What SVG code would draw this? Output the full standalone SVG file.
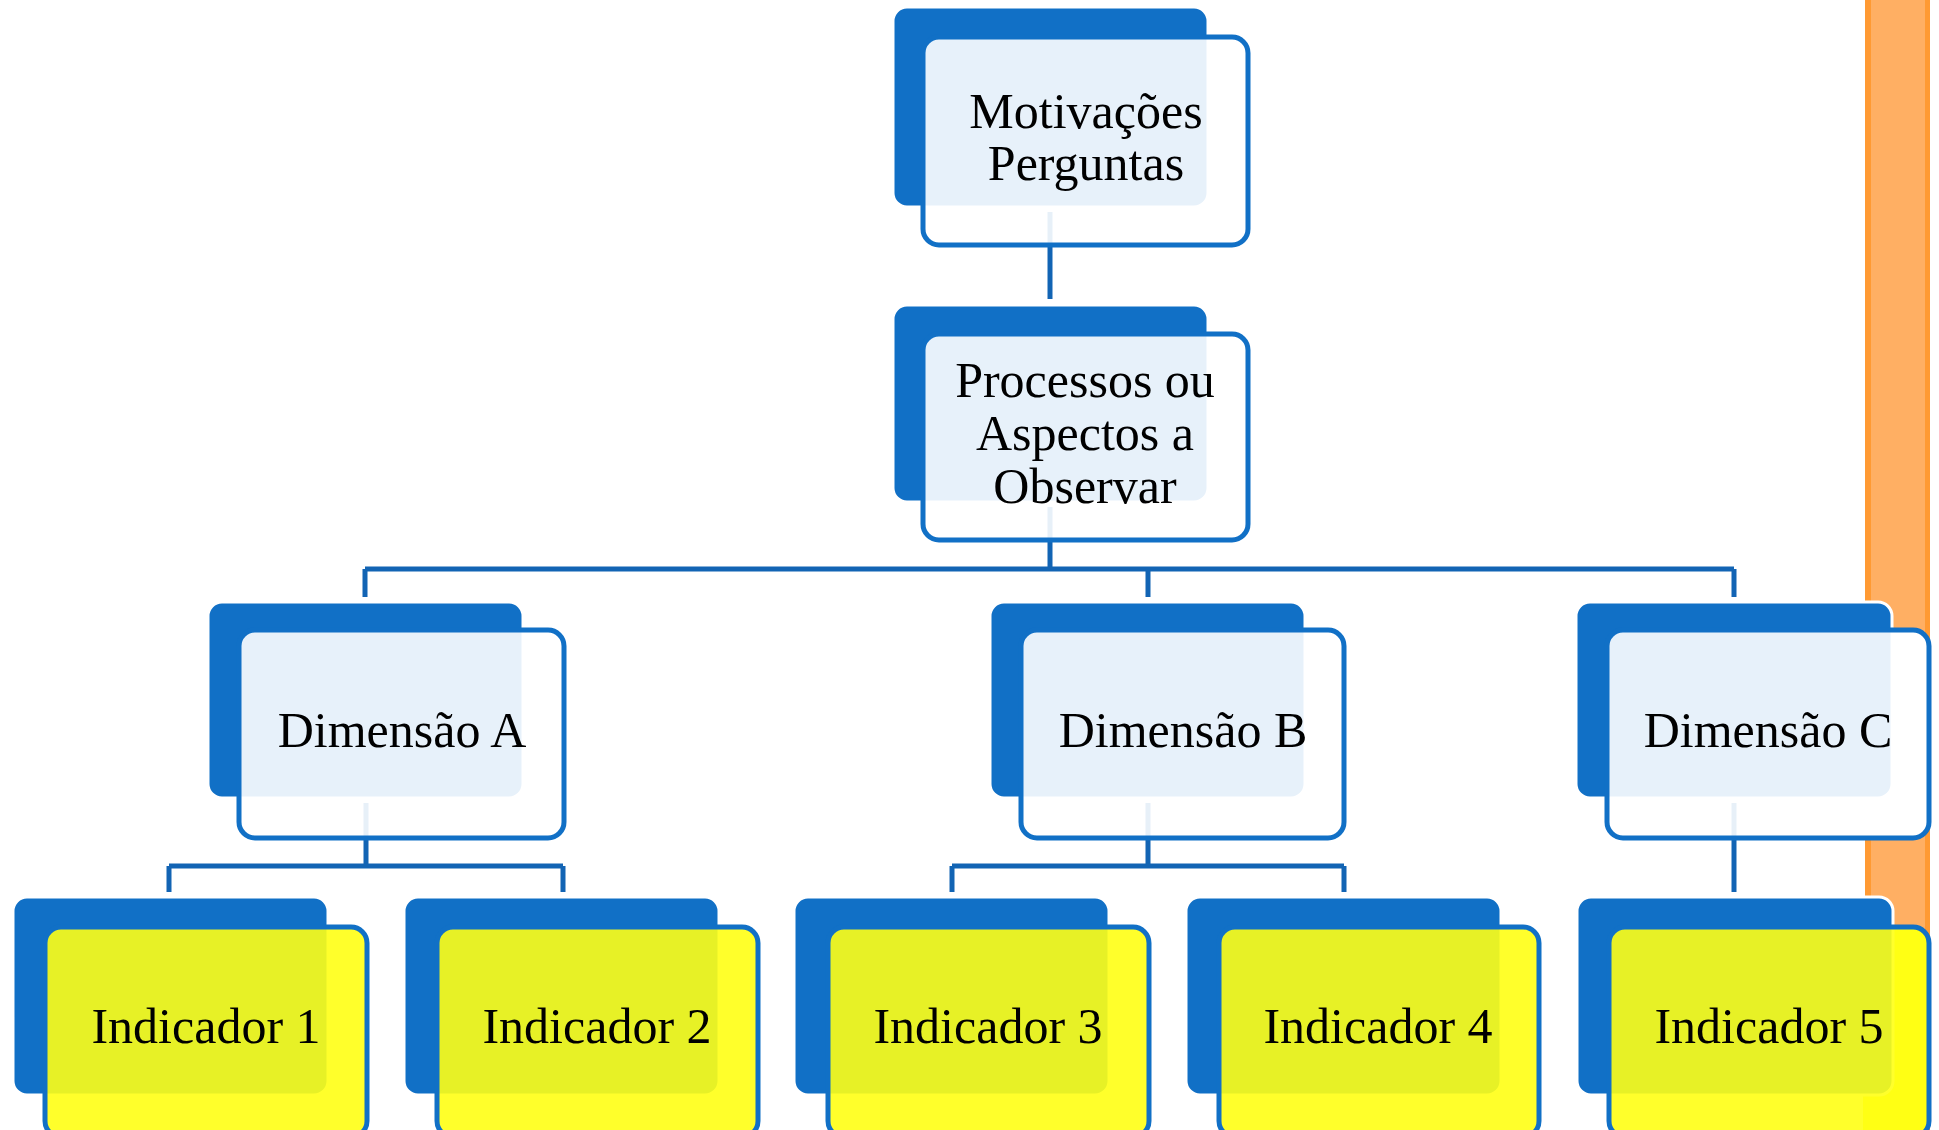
<svg xmlns="http://www.w3.org/2000/svg" width="1939" height="1130" viewBox="0 0 1939 1130">
<style>
.back{fill:#1170C6;stroke:#FFFFFF;stroke-width:3}
.front{fill:#FFFFFF;fill-opacity:0.9;stroke:#1170C6;stroke-width:5}
.ind{fill:#FFFF14;fill-opacity:0.9;stroke:#1170C6;stroke-width:5}
.lbl{font-family:"Liberation Serif","DejaVu Serif",serif;font-size:50px;fill:#000;text-anchor:middle}
.conn{fill:none;stroke:#1264B4;stroke-width:5}
</style>
<defs>
<clipPath id="barClip"><rect x="1863" y="0" width="76" height="1130"/></clipPath>
</defs>
<rect x="0" y="0" width="1939" height="1130" fill="#FFFFFF"/>
<g id="sidebar">
<rect x="1865" y="0" width="65" height="1130" fill="#FFAF63"/>
<rect x="1865" y="0" width="6" height="1130" fill="#FF9A33"/>
<rect x="1925" y="0" width="5" height="1130" fill="#FF9A33"/>
</g>
<g id="connectors" class="conn">
<path d="M1050 212 V299"/>
<path d="M1050 507 V569 M365 569 H1734 M365 569 V597 M1148 569 V597 M1734 569 V597"/>
<path d="M366 803 V866 M169 866 H563 M169 866 V892 M563 866 V892"/>
<path d="M1148 803 V866 M952 866 H1344 M952 866 V892 M1344 866 V892"/>
<path d="M1734 803 V892"/>
</g>
<g id="node-motivacoes">
<rect class="back" x="893" y="7" width="315" height="200" rx="14"/>
<rect class="front" x="923" y="37" width="325" height="208" rx="16"/>
<text class="lbl" x="1086" y="128">Motivações</text>
<text class="lbl" x="1086" y="180">Perguntas</text>
</g>
<g id="node-processos">
<rect class="back" x="893" y="305" width="315" height="197" rx="14"/>
<rect class="front" x="923" y="334" width="325" height="206" rx="16"/>
<text class="lbl" x="1085" y="397">Processos ou</text>
<text class="lbl" x="1085" y="450">Aspectos a</text>
<text class="lbl" x="1085" y="503">Observar</text>
</g>
<g id="node-dimA">
<rect class="back" x="208" y="602" width="315" height="196" rx="14"/>
<rect class="front" x="239" y="630" width="325" height="208" rx="16"/>
<text class="lbl" x="402" y="747">Dimensão A</text>
</g>
<g id="node-dimB">
<rect class="back" x="990" y="602" width="315" height="196" rx="14"/>
<rect class="front" x="1021" y="630" width="323" height="208" rx="16"/>
<text class="lbl" x="1183" y="747">Dimensão B</text>
</g>
<g id="node-dimC">
<rect x="1607" y="630" width="322" height="208" rx="16" fill="#FFFFFF" clip-path="url(#barClip)"/>
<rect class="back" x="1576" y="602" width="316" height="196" rx="14"/>
<rect class="front" x="1607" y="630" width="322" height="208" rx="16"/>
<text class="lbl" x="1768" y="747">Dimensão C</text>
</g>
<g id="node-ind1">
<rect class="back" x="13" y="897" width="315" height="198" rx="14"/>
<rect class="ind" x="45" y="927" width="322" height="210" rx="16"/>
<text class="lbl" x="206" y="1043">Indicador 1</text>
</g>
<g id="node-ind2">
<rect class="back" x="404" y="897" width="315" height="198" rx="14"/>
<rect class="ind" x="437" y="927" width="321" height="210" rx="16"/>
<text class="lbl" x="597" y="1043">Indicador 2</text>
</g>
<g id="node-ind3">
<rect class="back" x="794" y="897" width="315" height="198" rx="14"/>
<rect class="ind" x="828" y="927" width="321" height="210" rx="16"/>
<text class="lbl" x="988" y="1043">Indicador 3</text>
</g>
<g id="node-ind4">
<rect class="back" x="1186" y="897" width="315" height="198" rx="14"/>
<rect class="ind" x="1219" y="927" width="320" height="210" rx="16"/>
<text class="lbl" x="1378" y="1043">Indicador 4</text>
</g>
<g id="node-ind5">
<rect x="1609" y="927" width="320" height="210" rx="16" fill="#FFFF14" clip-path="url(#barClip)"/>
<rect class="back" x="1577" y="897" width="316" height="198" rx="14"/>
<rect class="ind" x="1609" y="927" width="320" height="210" rx="16"/>
<text class="lbl" x="1769" y="1043">Indicador 5</text>
</g>
</svg>
